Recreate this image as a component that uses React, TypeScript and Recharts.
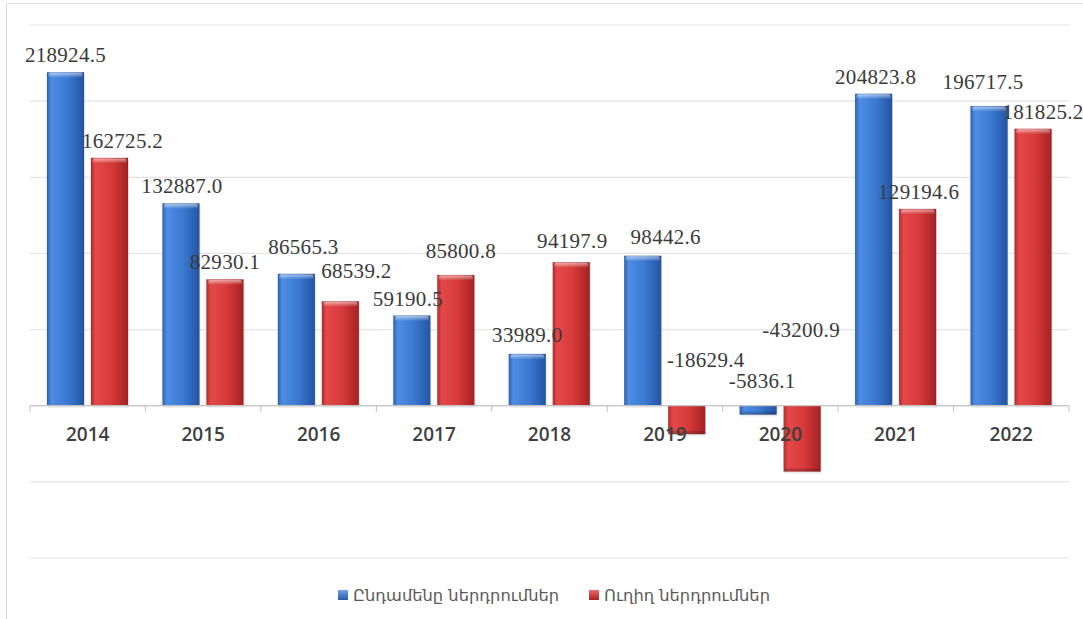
import React from 'react'
import {
  BarChart, Bar, XAxis, YAxis, CartesianGrid, ReferenceLine,
  Legend, LabelList,
} from 'recharts'

const years = ['2014', '2015', '2016', '2017', '2018', '2019', '2020', '2021', '2022']
const totalInvest = [218924.5, 132887.0, 86565.3, 59190.5, 33989.0, 98442.6, -5836.1, 204823.8, 196717.5]
const directInvest = [162725.2, 82930.1, 68539.2, 85800.8, 94197.9, -18629.4, -43200.9, 129194.6, 181825.2]
const yTicks = [-100000, -50000, 0, 50000, 100000, 150000, 200000, 250000]

const seriesNames = {
  total: 'Ընդամենը ներդրումներ',
  direct: 'Ուղիղ ներդրումներ',
}

// label nudges (dx, dy) – labels in the original were hand-placed
const totalLabelShift = [[0, 0], [1, 0], [7, -10], [-4, 0], [0, -2], [23, -2], [4, -8], [2, 0], [-6, -7]]
const directLabelShift = [[13, 0], [0, 0], [16, -13], [5, -7], [1, -4], [19, -29], [-1, -59], [1, 0], [10, 0]]

const data = years.map((year, i) => ({
  year,
  total: totalInvest[i],
  direct: directInvest[i],
}))

const W = 1083
const H = 619
const AXIS_H = 30
const margin = { top: 25, right: 14, left: 30, bottom: 11 }
const plotH = 533
const plotW = W - margin.left - margin.right
const Y_MIN = -100000
const Y_MAX = 250000
const zeroY = margin.top + (plotH * Y_MAX) / (Y_MAX - Y_MIN)
const band = plotW / years.length

function makeLabel(shift: number[][]) {
  return (props: any) => {
    const { x, y, width, height, value, index } = props
    const top = Math.min(Number(y), Number(y) + Number(height))
    const [dx, dy] = shift[index] || [0, 0]
    return (
      <text
        x={Number(x) + Number(width) / 2 + dx}
        y={top - 10 + dy}
        textAnchor="middle"
        fontFamily="'Liberation Serif', 'Times New Roman', serif"
        fontSize={21}
        letterSpacing={0.3}
        fill="#3a3a3a"
      >
        {Number(value).toFixed(1)}
      </text>
    )
  }
}

function BevelBar(props: any) {
  const { x, y, width, height, fill, value } = props
  const top = Math.min(y, y + height)
  const h = Math.abs(height)
  if (!h) return null
  const positive = value === undefined || (Array.isArray(value) ? value[1] >= value[0] : value >= 0)
  return (
    <g>
      <rect x={x + 1} y={top + 2} width={width} height={h} fill="#000" opacity={0.08} />
      <rect x={x} y={top} width={width} height={h} fill={fill} stroke="rgba(0,0,0,0.18)" strokeWidth={0.6} />
      {positive && h > 6 ? (
        <rect x={x + 1.5} y={top + 0.5} width={width - 3} height={5} rx={2} fill="url(#bevel)" />
      ) : (
        h > 4 && <rect x={x + 1} y={top + h - 3} width={width - 2} height={3} fill="#000" opacity={0.18} />
      )}
    </g>
  )
}

function YearTick(props: any) {
  const { x, payload, index } = props
  const left = x - band / 2
  return (
    <g>
      <line x1={left} y1={zeroY} x2={left} y2={zeroY + 6} stroke="#bfbfbf" />
      {index === years.length - 1 && (
        <line x1={left + band} y1={zeroY} x2={left + band} y2={zeroY + 6} stroke="#bfbfbf" />
      )}
      <text
        x={x}
        y={zeroY + 35}
        textAnchor="middle"
        fontFamily="'Open Sans', 'DejaVu Sans', sans-serif"
        fontSize={19}
        fontWeight={600}
        fill="#3f3f3f"
      >
        {payload.value}
      </text>
    </g>
  )
}

function LegendBox() {
  const item = (label: string, grad: string, gap: number) => (
    <span style={{ display: 'inline-flex', alignItems: 'center', marginRight: gap }}>
      <svg width={10} height={10} style={{ marginRight: 5 }}>
        <rect x={0} y={0} width={10} height={10} fill={grad} />
      </svg>
      <span>{label}</span>
    </span>
  )
  return (
    <div
      style={{
        height: 20,
        display: 'flex',
        justifyContent: 'center',
        alignItems: 'center',
        fontFamily: "'DejaVu Sans', sans-serif",
        fontSize: 16.3,
        color: '#595959',
        paddingLeft: 9,
      }}
    >
      <svg width={0} height={0} style={{ position: 'absolute' }}>
        <defs>
          <linearGradient id="legBlue" x1="0" y1="0" x2="0" y2="1">
            <stop offset="0%" stopColor="#6fa4ea" />
            <stop offset="100%" stopColor="#2858a8" />
          </linearGradient>
          <linearGradient id="legRed" x1="0" y1="0" x2="0" y2="1">
            <stop offset="0%" stopColor="#ee6b6b" />
            <stop offset="100%" stopColor="#a82222" />
          </linearGradient>
        </defs>
      </svg>
      {item(seriesNames.total, 'url(#legBlue)', 30)}
      {item(seriesNames.direct, 'url(#legRed)', 0)}
    </div>
  )
}

export default function App() {
  return (
    <div style={{ position: 'absolute', left: 0, top: 0, width: W, height: H, background: '#fff' }}>
      <div
        style={{
          position: 'absolute', left: 6, top: 3, right: 0, bottom: 0,
          borderLeft: '1.5px solid #d9d9d9', borderTop: '1.5px solid #e2e2e2',
        }}
      />
      <BarChart
        width={W}
        height={H}
        data={data}
        margin={margin}
        barSize={37}
        barGap={7}
        style={{ position: 'absolute', left: 0, top: 0 }}
      >
        <defs>
          <linearGradient id="blueGrad" x1="0" y1="0" x2="1" y2="0">
            <stop offset="0%" stopColor="#2d62b6" />
            <stop offset="12%" stopColor="#4d8de2" />
            <stop offset="55%" stopColor="#3b79d2" />
            <stop offset="100%" stopColor="#2554a2" />
          </linearGradient>
          <linearGradient id="redGrad" x1="0" y1="0" x2="1" y2="0">
            <stop offset="0%" stopColor="#b52a2a" />
            <stop offset="12%" stopColor="#e44848" />
            <stop offset="55%" stopColor="#d63a3a" />
            <stop offset="100%" stopColor="#a52222" />
          </linearGradient>
          <linearGradient id="bevel" x1="0" y1="0" x2="0" y2="1">
            <stop offset="0%" stopColor="#fff" stopOpacity={0.55} />
            <stop offset="100%" stopColor="#fff" stopOpacity={0} />
          </linearGradient>
        </defs>
        <CartesianGrid vertical={false} stroke="#e4e4e4" strokeWidth={1.2} />
        <XAxis
          dataKey="year"
          height={AXIS_H}
          axisLine={false}
          tickLine={false}
          interval={0}
          tick={<YearTick />}
        />
        <YAxis hide domain={[Y_MIN, Y_MAX]} ticks={yTicks} />
        <ReferenceLine y={0} stroke="#c4c4c4" strokeWidth={1.2} />
        <Legend
          verticalAlign="bottom"
          content={<LegendBox />}
          wrapperStyle={{ bottom: 14, height: 20 }}
        />
        <Bar
          dataKey="total"
          name={seriesNames.total}
          fill="url(#blueGrad)"
          shape={<BevelBar />}
          isAnimationActive={false}
        >
          <LabelList dataKey="total" content={makeLabel(totalLabelShift)} />
        </Bar>
        <Bar
          dataKey="direct"
          name={seriesNames.direct}
          fill="url(#redGrad)"
          shape={<BevelBar />}
          isAnimationActive={false}
        >
          <LabelList dataKey="direct" content={makeLabel(directLabelShift)} />
        </Bar>
      </BarChart>
    </div>
  )
}
